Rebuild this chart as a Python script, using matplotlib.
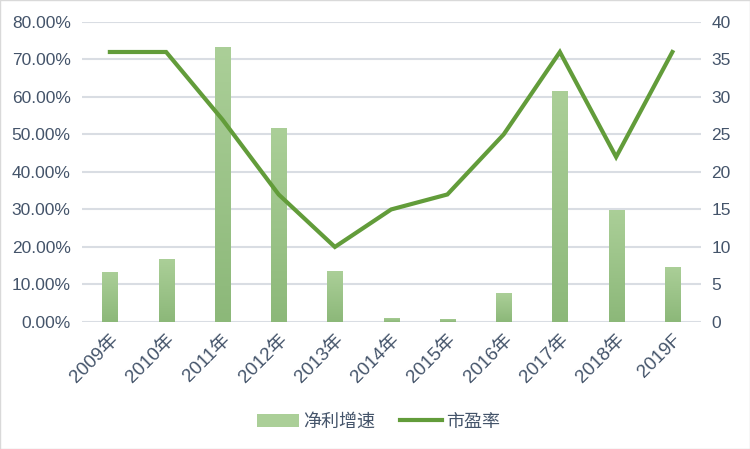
import matplotlib
matplotlib.use("Agg")
import matplotlib.pyplot as plt
import numpy as np
from matplotlib.ticker import FuncFormatter, MultipleLocator
from matplotlib.colors import LinearSegmentedColormap
from matplotlib.patches import Rectangle
from matplotlib.lines import Line2D

plt.rcParams['font.family'] = ['Liberation Sans', 'Noto Sans CJK SC', 'DejaVu Sans']

categories = ['2009年', '2010年', '2011年', '2012年', '2013年', '2014年',
              '2015年', '2016年', '2017年', '2018年', '2019F']
growth = [13.4, 16.8, 73.4, 51.8, 13.6, 1.15, 0.9, 7.6, 61.6, 29.9, 14.7]  # %
pe = [36, 36, 27, 17, 10, 15, 17, 25, 36, 22, 36]

text_color = '#44546a'
grid_color = '#d9dde3'
bar_top = '#abcf98'
bar_bot = '#8cb879'
line_color = '#629c3a'

fig = plt.figure(figsize=(7.5, 4.49), dpi=100)
ax = fig.add_axes([0.109, 0.283, 0.825, 0.668])
ax2 = ax.twinx()

x = np.arange(len(categories))
bars = ax.bar(x, growth, width=0.27, color=bar_top, zorder=2)

cmap = LinearSegmentedColormap.from_list('g', [bar_bot, bar_top])
grad = np.linspace(0, 1, 256).reshape(-1, 1)
for b in bars:
    bx, by = b.get_x(), b.get_y()
    w, h = b.get_width(), b.get_height()
    im = ax.imshow(grad, cmap=cmap, origin='lower', aspect='auto',
                   extent=[bx, bx + w, by, by + h], zorder=2.5)
    im.set_clip_path(b)

ax.set_xlim(-0.5, len(categories) - 0.5)
ax.set_ylim(0, 80)
ax.yaxis.set_major_locator(MultipleLocator(10))
ax.yaxis.set_major_formatter(FuncFormatter(lambda v, p: f'{v:.2f}%'))
ax.grid(axis='y', color=grid_color, linewidth=1.5, zorder=0)
ax.set_axisbelow(True)

ax2.plot(x, pe, color=line_color, linewidth=3.0, zorder=3, solid_joinstyle='miter')
ax2.set_ylim(0, 40)
ax2.yaxis.set_major_locator(MultipleLocator(5))

for a in (ax, ax2):
    for s in a.spines.values():
        s.set_visible(False)
    a.tick_params(length=0, labelsize=12.5, colors=text_color)

ax.set_xticks(x)
ax.set_xticklabels(categories, rotation=45, ha='right', rotation_mode='anchor',
                   fontsize=13.5, color=text_color)
ax.tick_params(axis='x', pad=7)
ax.tick_params(axis='y', pad=8)
ax2.tick_params(axis='y', pad=8)

handles = [Rectangle((0, 0), 1, 1, facecolor=bar_top),
           Line2D([0], [0], color=line_color, linewidth=3.0)]
leg = fig.legend(handles, ['净利增速', '市盈率'], loc='center', bbox_to_anchor=(0.505, 0.06),
                 ncol=2, frameon=False, fontsize=13, handlelength=2.3,
                 handletextpad=0.25, columnspacing=1.4)
for t in leg.get_texts():
    t.set_color(text_color)

fig.patches.append(Rectangle((0, 0), 1, 1, transform=fig.transFigure, fill=False,
                             edgecolor='#d9d9d9', linewidth=1))

fig.savefig('out.png', dpi=100)
